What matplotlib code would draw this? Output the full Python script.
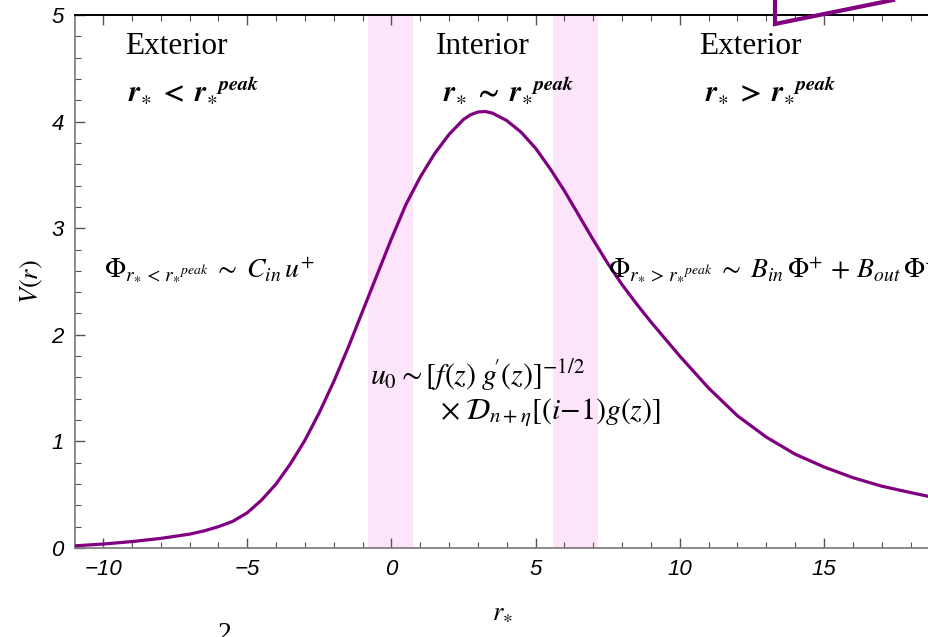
import matplotlib.pyplot as plt
from matplotlib.ticker import MultipleLocator, FixedFormatter, FixedLocator
from matplotlib.lines import Line2D

plt.rcParams['mathtext.fontset'] = 'stix'

# potential barrier V(r) against tortoise coordinate r_*
r_star = [-11.0, -10.0, -9.0, -8.0, -7.0, -6.5, -6.0, -5.5, -5.0, -4.5, -4.0,
          -3.5, -3.0, -2.5, -2.0, -1.5, -1.0, -0.5, 0.0, 0.5, 1.0, 1.5, 2.0,
          2.5, 2.75, 3.0, 3.25, 3.5, 4.0, 4.5, 5.0, 5.5, 6.0, 6.5, 7.0, 7.5, 8.0, 8.5,
          9.0, 10.0, 11.0, 12.0, 13.0, 14.0, 15.0, 16.0, 17.0, 18.0, 18.7]
V = [0.02, 0.037, 0.06, 0.09, 0.13, 0.16, 0.20, 0.25, 0.33, 0.45, 0.60,
     0.79, 1.01, 1.27, 1.56, 1.88, 2.22, 2.56, 2.90, 3.22, 3.48, 3.70, 3.88,
     4.02, 4.065, 4.09, 4.095, 4.08, 4.01, 3.90, 3.75, 3.56, 3.35, 3.12, 2.89, 2.67, 2.47, 2.29,
     2.12, 1.80, 1.50, 1.24, 1.04, 0.88, 0.76, 0.66, 0.58, 0.52, 0.48]

# matching regions around the inner turning points
bands = [(-0.8, 0.75), (5.6, 7.15)]

xticks = [-10, -5, 0, 5, 10, 15]
xlabels = ['\u221210', '\u22125', '0', '5', '10', '15']
yticks = [0, 1, 2, 3, 4, 5]
ylabels = ['0', '1', '2', '3', '4', '5']

fig = plt.figure(figsize=(9.29, 6.37), dpi=100)
ax = fig.add_axes([75/929, 1-548/637, 1-75/929, 533/637])

for a, b in bands:
    ax.axvspan(a, b, color='#fce4fa', lw=0, zorder=0)

ax.plot(r_star, V, color='#800080', lw=2.3, zorder=3)

ax.set_xlim(-10.97, 18.64)
ax.set_ylim(0, 5)

ax.xaxis.set_major_locator(FixedLocator(xticks))
ax.xaxis.set_major_formatter(FixedFormatter(xlabels))
ax.xaxis.set_minor_locator(MultipleLocator(1))
ax.yaxis.set_major_locator(FixedLocator(yticks))
ax.yaxis.set_major_formatter(FixedFormatter(ylabels))
ax.yaxis.set_minor_locator(MultipleLocator(0.2))

ax.tick_params(which='both', direction='in', top=True, right=False,
               color='#555555', labelsize=16, pad=8)
ax.tick_params(which='major', length=7, width=1)
ax.tick_params(which='minor', length=4, width=0.8)
for lab in ax.get_xticklabels() + ax.get_yticklabels():
    lab.set_family('Liberation Sans')
    lab.set_style('italic')

for s in ('left', 'bottom'):
    ax.spines[s].set_color('#808080')
    ax.spines[s].set_linewidth(1.3)
ax.spines['top'].set_color('black')
ax.spines['top'].set_linewidth(1.4)
ax.spines['right'].set_visible(False)

ax.set_ylabel('$V(r)$', fontsize=19, labelpad=5)
ax.set_xlabel(r'$r_{\ast}$', fontsize=19, labelpad=14)

serif = 'Liberation Serif'
ax.text(-7.47, 4.70, 'Exterior', family=serif, fontsize=22.5, ha='center', va='center')
ax.text(3.17, 4.70, 'Interior', family=serif, fontsize=22.5, ha='center', va='center')
ax.text(12.43, 4.70, 'Exterior', family=serif, fontsize=22.5, ha='center', va='center')

ax.text(-9.14, 4.29, r'$\mathbfit{r}_{\ast}\;\mathbf{<}\;\mathbfit{r}_{\ast}{}^{\mathbfit{peak}}$',
        fontsize=21, ha='left', va='center')
ax.text(1.79, 4.29, r'$\mathbfit{r}_{\ast}\;\mathbf{\sim}\;\mathbfit{r}_{\ast}{}^{\mathbfit{peak}}$',
        fontsize=21, ha='left', va='center')
ax.text(10.87, 4.29, r'$\mathbfit{r}_{\ast}\;\mathbf{>}\;\mathbfit{r}_{\ast}{}^{\mathbfit{peak}}$',
        fontsize=21, ha='left', va='center')

ax.text(-9.95, 2.60, r'$\Phi_{r_{\ast}\,<\,r_{\ast}{}^{peak}}\;\sim\; C_{in}\,u^{+}$',
        fontsize=20, ha='left', va='center')
ax.text(7.5, 2.60, r'$\Phi_{r_{\ast}\,>\,r_{\ast}{}^{peak}}\;\sim\; B_{in}\,\Phi^{+}\,+\,B_{out}\,\Phi^{-}$',
        fontsize=20, ha='left', va='center', clip_on=True)

ax.text(-0.75, 1.62, r"$u_0 \sim [f(z)\;g\!'(z)]^{-1/2}$",
        fontsize=21.5, ha='left', va='center')
ax.text(1.7, 1.27, r'$\times\;\mathcal{D}_{n+\eta}[(i{-}1)g(z)]$',
        fontsize=21.5, ha='left', va='center')

# corner of the neighbouring sketch above the frame
fig.add_artist(Line2D([775/929, 775/929, 893/929], [1.0, 1-24/637, 1.0],
                      color='#800080', lw=3.0, transform=fig.transFigure,
                      solid_joinstyle='miter'))
fig.text(225/929, 1-622/637, '2', family=serif, fontsize=20, ha='center', va='top')

fig.savefig('out.png', dpi=100)
